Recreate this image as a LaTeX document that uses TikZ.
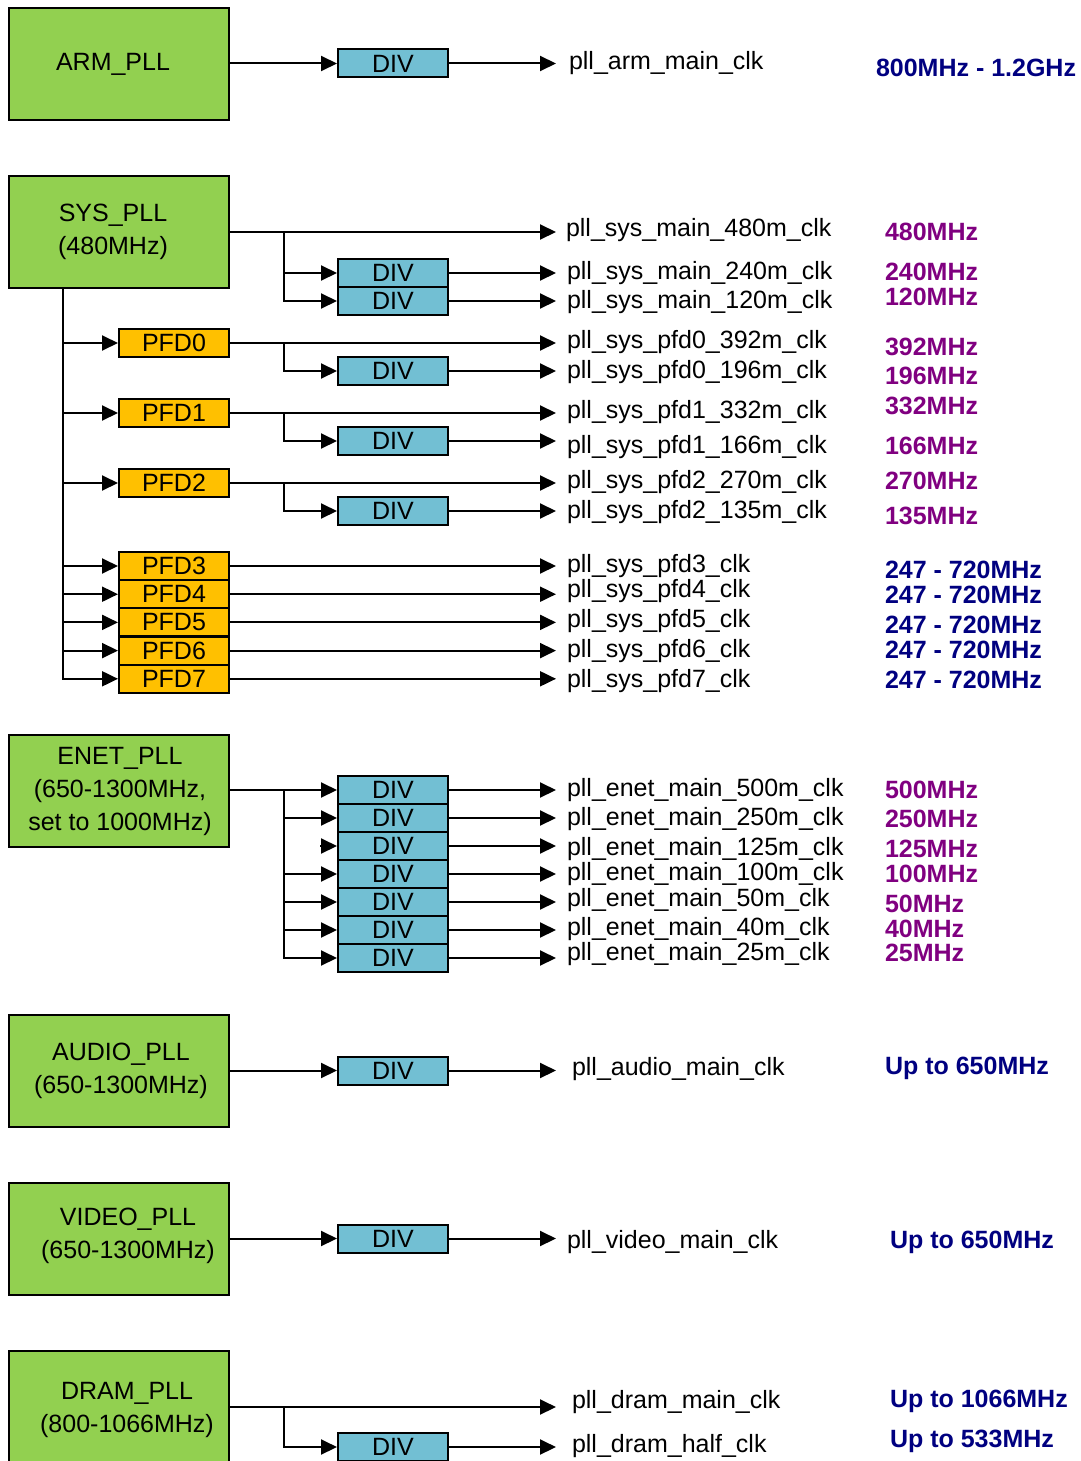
\documentclass[tikz,border=0pt]{standalone}
\usepackage{fontspec}
\setmainfont{Liberation Sans}
\usetikzlibrary{arrows.meta}
\definecolor{pllgreen}{HTML}{92D050}
\definecolor{divblue}{HTML}{72BFD3}
\definecolor{pfdorange}{HTML}{FFC000}
\definecolor{freqpurple}{HTML}{800080}
\definecolor{freqnavy}{HTML}{000080}
\begin{document}
\begin{tikzpicture}[x=1pt,y=-1pt,line width=2pt,
  >={Triangle[length=16pt,width=15pt]},
  every node/.style={font=\fontsize{25}{33}\selectfont},
  pll/.style={draw,fill=pllgreen,minimum width=220pt,minimum height=112pt,inner sep=0pt},
  plltext/.style={align=center,inner sep=0pt},
  divbox/.style={draw,fill=divblue,minimum width=110pt,minimum height=28pt,inner sep=0pt},
  pfdbox/.style={draw,fill=pfdorange,minimum width=110pt,minimum height=28pt,inner sep=0pt},
  sig/.style={anchor=west,inner xsep=10pt,inner ysep=0pt},
  fpur/.style={anchor=west,inner sep=0pt,text=freqpurple,font=\fontsize{25}{30}\selectfont\bfseries},
  fnav/.style={anchor=west,inner sep=0pt,text=freqnavy,font=\fontsize{25}{30}\selectfont\bfseries}
]
\useasboundingbox (0,0) rectangle (1080,1461);

% ---------------- ARM ----------------
\node[pll,label={[plltext,xshift=-6pt]center:ARM\_PLL}] (arm) at (119,64) {};
\node[divbox] (armdiv) at (393,63.5) {DIV};
\node[sig,inner xsep=12pt] (armclk) at (556,63) {pll\_arm\_main\_clk};
\node[fnav] (armf) at (875,68) {800MHz - 1.2GHz};
\draw[->] (armdiv.west -| arm.east) -- (armdiv.west);
\draw[->] (armdiv.east) -- (armdiv.east -| armclk.west);

% ---------------- SYS ----------------
\node[pll,label={[plltext,xshift=-6pt]center:SYS\_PLL\\(480MHz)}] (sys) at (119,232) {};
\node[divbox] (sdiv1) at (393,273) {DIV};
\node[divbox] (sdiv2) at (393,301) {DIV};
\node[sig,inner xsep=9pt] (s480) at (556,230) {pll\_sys\_main\_480m\_clk};
\node[sig] (s240) at (556,273) {pll\_sys\_main\_240m\_clk};
\node[sig] (s120) at (556,302) {pll\_sys\_main\_120m\_clk};
\node[fpur] (f480) at (884,232) {480MHz};
\node[fpur] (f240) at (884,272) {240MHz};
\node[fpur] (f120) at (884,297) {120MHz};
\coordinate (sysbr) at (284,232);
\draw[->] (sys.east) -- (sys.east -| s480.west);
\draw[->] (sysbr) |- (sdiv1.west);
\draw[->] (sysbr) |- (sdiv2.west);
\draw[->] (sdiv1.east) -- (sdiv1.east -| s240.west);
\draw[->] (sdiv2.east) -- (sdiv2.east -| s120.west);

% PFDs
\node[pfdbox] (pfd0) at (174,343) {PFD0};
\node[pfdbox] (pfd1) at (174,413) {PFD1};
\node[pfdbox] (pfd2) at (174,483) {PFD2};
\node[pfdbox] (pfd3) at (174,566) {PFD3};
\node[pfdbox] (pfd4) at (174,594.2) {PFD4};
\node[pfdbox] (pfd5) at (174,622.4) {PFD5};
\node[pfdbox] (pfd6) at (174,650.6) {PFD6};
\node[pfdbox] (pfd7) at (174,678.8) {PFD7};
\coordinate (bus) at (63,288);
\foreach \p in {pfd0,pfd1,pfd2,pfd3,pfd4,pfd5,pfd6,pfd7}
  \draw[->] (bus) |- (\p.west);

\node[divbox] (p0div) at (393,371) {DIV};
\node[divbox] (p1div) at (393,441) {DIV};
\node[divbox] (p2div) at (393,511) {DIV};
\coordinate (p0br) at (284,343);
\coordinate (p1br) at (284,413);
\coordinate (p2br) at (284,483);

\node[sig] (c392) at (556,342) {pll\_sys\_pfd0\_392m\_clk};
\node[sig] (c196) at (556,372) {pll\_sys\_pfd0\_196m\_clk};
\node[sig] (c332) at (556,412) {pll\_sys\_pfd1\_332m\_clk};
\node[sig] (c166) at (556,447) {pll\_sys\_pfd1\_166m\_clk};
\node[sig] (c270) at (556,482) {pll\_sys\_pfd2\_270m\_clk};
\node[sig] (c135) at (556,512) {pll\_sys\_pfd2\_135m\_clk};
\node[fpur] (f392) at (884,347) {392MHz};
\node[fpur] (f196) at (884,376) {196MHz};
\node[fpur] (f332) at (884,406) {332MHz};
\node[fpur] (f166) at (884,446) {166MHz};
\node[fpur] (f270) at (884,481) {270MHz};
\node[fpur] (f135) at (884,516) {135MHz};

\draw[->] (pfd0.east) -- (pfd0.east -| c392.west);
\draw[->] (p0br) |- (p0div.west);
\draw[->] (p0div.east) -- (p0div.east -| c196.west);
\draw[->] (pfd1.east) -- (pfd1.east -| c332.west);
\draw[->] (p1br) |- (p1div.west);
\draw[->] (p1div.east) -- (p1div.east -| c166.west);
\draw[->] (pfd2.east) -- (pfd2.east -| c270.west);
\draw[->] (p2br) |- (p2div.west);
\draw[->] (p2div.east) -- (p2div.east -| c135.west);

\node[sig] (c3) at (556,566) {pll\_sys\_pfd3\_clk};
\node[sig] (c4) at (556,591) {pll\_sys\_pfd4\_clk};
\node[sig] (c5) at (556,621) {pll\_sys\_pfd5\_clk};
\node[sig] (c6) at (556,651) {pll\_sys\_pfd6\_clk};
\node[sig] (c7) at (556,681) {pll\_sys\_pfd7\_clk};
\node[fnav] (f3) at (884,570) {247 - 720MHz};
\node[fnav] (f4) at (884,595) {247 - 720MHz};
\node[fnav] (f5) at (884,625) {247 - 720MHz};
\node[fnav] (f6) at (884,650) {247 - 720MHz};
\node[fnav] (f7) at (884,680) {247 - 720MHz};
\draw[->] (pfd3.east) -- (pfd3.east -| c3.west);
\draw[->] (pfd4.east) -- (pfd4.east -| c4.west);
\draw[->] (pfd5.east) -- (pfd5.east -| c5.west);
\draw[->] (pfd6.east) -- (pfd6.east -| c6.west);
\draw[->] (pfd7.east) -- (pfd7.east -| c7.west);

% ---------------- ENET ----------------
\node[pll,label={[plltext,xshift=1pt]center:ENET\_PLL\\(650-1300MHz,\\set to 1000MHz)}] (enet) at (119,791) {};
\node[divbox] (e1) at (393,790) {DIV};
\node[divbox] (e2) at (393,818) {DIV};
\node[divbox] (e3) at (393,846) {DIV};
\node[divbox] (e4) at (393,874) {DIV};
\node[divbox] (e5) at (393,902) {DIV};
\node[divbox] (e6) at (393,930) {DIV};
\node[divbox] (e7) at (393,958) {DIV};
\coordinate (enbr) at (284,790);
\draw[->] (e1.west -| enet.east) -- (e1.west);
\draw[->] (enbr) |- (e2.west);
\draw[->] ([xshift=-17pt]e3.west) -- (e3.west);
\draw[->] (enbr) |- (e4.west);
\draw[->] (enbr) |- (e5.west);
\draw[->] (enbr) |- (e6.west);
\draw[->] (enbr) |- (e7.west);

\node[sig] (n500) at (556,790) {pll\_enet\_main\_500m\_clk};
\node[sig] (n250) at (556,819) {pll\_enet\_main\_250m\_clk};
\node[sig] (n125) at (556,849) {pll\_enet\_main\_125m\_clk};
\node[sig] (n100) at (556,874) {pll\_enet\_main\_100m\_clk};
\node[sig] (n50) at (556,900) {pll\_enet\_main\_50m\_clk};
\node[sig] (n40) at (556,929) {pll\_enet\_main\_40m\_clk};
\node[sig] (n25) at (556,954) {pll\_enet\_main\_25m\_clk};
\node[fpur] (g500) at (884,790) {500MHz};
\node[fpur] (g250) at (884,819) {250MHz};
\node[fpur] (g125) at (884,849) {125MHz};
\node[fpur] (g100) at (884,874) {100MHz};
\node[fpur] (g50) at (884,904) {50MHz};
\node[fpur] (g40) at (884,929) {40MHz};
\node[fpur] (g25) at (884,953) {25MHz};
\draw[->] (e1.east) -- (e1.east -| n500.west);
\draw[->] (e2.east) -- (e2.east -| n250.west);
\draw[->] (e3.east) -- (e3.east -| n125.west);
\draw[->] (e4.east) -- (e4.east -| n100.west);
\draw[->] (e5.east) -- (e5.east -| n50.west);
\draw[->] (e6.east) -- (e6.east -| n40.west);
\draw[->] (e7.east) -- (e7.east -| n25.west);

% ---------------- AUDIO ----------------
\node[pll,label={[plltext,xshift=2pt]center:AUDIO\_PLL\\(650-1300MHz)}] (audio) at (119,1071) {};
\node[divbox] (adiv) at (393,1070.5) {DIV};
\node[sig,inner xsep=15pt] (aclk) at (556,1069) {pll\_audio\_main\_clk};
\node[fnav] (af) at (884,1068) {Up to 650MHz};
\draw[->] (adiv.west -| audio.east) -- (adiv.west);
\draw[->] (adiv.east) -- (adiv.east -| aclk.west);

% ---------------- VIDEO ----------------
\node[pll,label={[plltext,xshift=9pt,yshift=3pt]center:VIDEO\_PLL\\(650-1300MHz)}] (video) at (119,1239) {};
\node[divbox] (vdiv) at (393,1238.5) {DIV};
\node[sig] (vclk) at (556,1242) {pll\_video\_main\_clk};
\node[fnav] (vf) at (889,1242) {Up to 650MHz};
\draw[->] (vdiv.west -| video.east) -- (vdiv.west);
\draw[->] (vdiv.east) -- (vdiv.east -| vclk.west);

% ---------------- DRAM ----------------
\node[pll,label={[plltext,xshift=8pt,yshift=-3pt]center:DRAM\_PLL\\(800-1066MHz)}] (dram) at (119,1407) {};
\node[divbox] (ddiv) at (393,1447) {DIV};
\node[sig,inner xsep=15pt] (dmain) at (556,1402) {pll\_dram\_main\_clk};
\node[sig,inner xsep=15pt] (dhalf) at (556,1446) {pll\_dram\_half\_clk};
\node[fnav] (df1) at (889,1401) {Up to 1066MHz};
\node[fnav] (df2) at (889,1441) {Up to 533MHz};
\coordinate (drbr) at (284,1407);
\draw[->] (dram.east) -- (dram.east -| dmain.west);
\draw[->] (drbr) |- (ddiv.west);
\draw[->] (ddiv.east) -- (ddiv.east -| dhalf.west);
\end{tikzpicture}
\end{document}
